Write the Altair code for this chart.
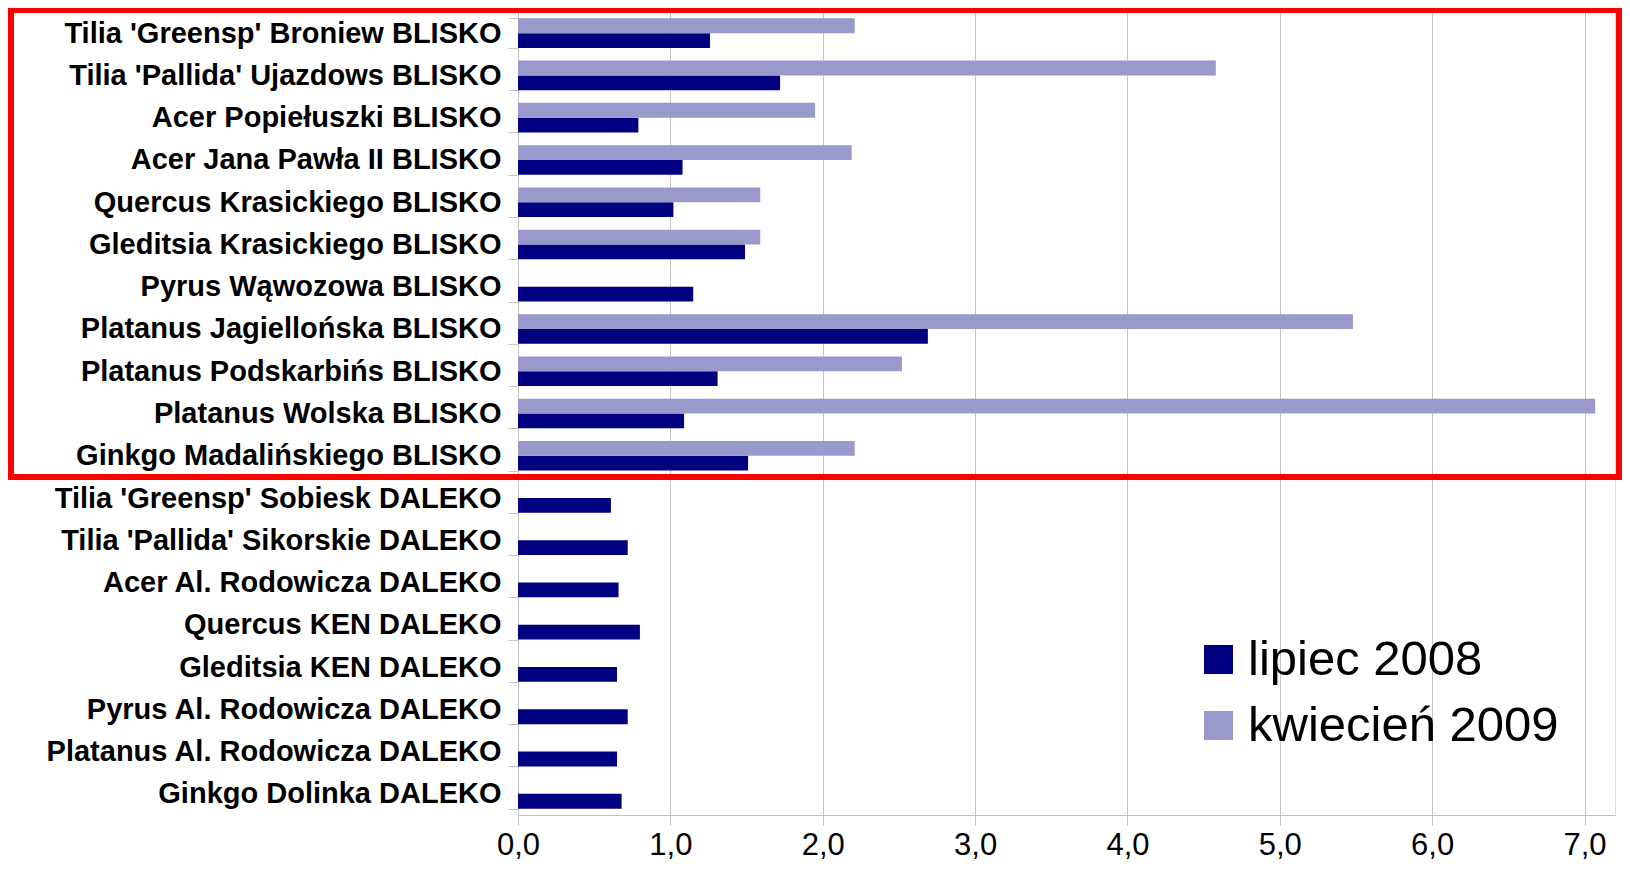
import altair as alt
import pandas as pd

categories = [
    "Tilia 'Greensp' Broniew BLISKO",
    "Tilia 'Pallida' Ujazdows BLISKO",
    "Acer Popiełuszki BLISKO",
    "Acer Jana Pawła II BLISKO",
    "Quercus Krasickiego BLISKO",
    "Gleditsia Krasickiego BLISKO",
    "Pyrus Wąwozowa BLISKO",
    "Platanus Jagiellońska BLISKO",
    "Platanus Podskarbińs BLISKO",
    "Platanus Wolska BLISKO",
    "Ginkgo Madalińskiego BLISKO",
    "Tilia 'Greensp' Sobiesk DALEKO",
    "Tilia 'Pallida' Sikorskie DALEKO",
    "Acer Al. Rodowicza DALEKO",
    "Quercus KEN DALEKO",
    "Gleditsia KEN DALEKO",
    "Pyrus Al. Rodowicza DALEKO",
    "Platanus Al. Rodowicza DALEKO",
    "Ginkgo Dolinka DALEKO",
]

lipiec_2008 = [1.26, 1.72, 0.79, 1.08, 1.02, 1.49, 1.15, 2.69, 1.31, 1.09, 1.51,
               0.61, 0.72, 0.66, 0.80, 0.65, 0.72, 0.65, 0.68]

kwiecien_2009 = [2.21, 4.58, 1.95, 2.19, 1.59, 1.59, None, 5.48, 2.52, 7.07, 2.21,
                 None, None, None, None, None, None, None, None]

series_names = ["lipiec 2008", "kwiecień 2009"]
series_colors = ["#000080", "#9999cc"]
x_ticks = [0, 1, 2, 3, 4, 5, 6, 7]

rows = []
for c, a, b in zip(categories, lipiec_2008, kwiecien_2009):
    rows.append({"cat": c, "series": series_names[0], "value": a})
    if b is not None:
        rows.append({"cat": c, "series": series_names[1], "value": b})
df = pd.DataFrame(rows)

W, H = 1097, 803
FONT = "Liberation Sans"
GRAY = "#c4c4c4"
RED = "#ff0000"

bars = alt.Chart(df).mark_bar().encode(
    x=alt.X(
        "value:Q",
        scale=alt.Scale(domain=[0, 7.2], nice=False, zero=True),
        axis=alt.Axis(
            title=None,
            values=x_ticks,
            labelExpr="replace(format(datum.value, '.1f'), '.', ',')",
            labelFont=FONT,
            labelFontSize=31,
            labelColor="#000000",
            labelPadding=5,
            tickSize=10,
            tickColor=GRAY,
            domainColor=GRAY,
            gridColor=GRAY,
            grid=True,
            labelFlush=False,
        ),
    ),
    y=alt.Y(
        "cat:N",
        sort=categories,
        scale=alt.Scale(paddingInner=0.3, paddingOuter=0.15),
        axis=alt.Axis(
            title=None,
            labelFont=FONT,
            labelFontSize=29,
            labelFontWeight="bold",
            labelColor="#000000",
            labelLimit=800,
            labelPadding=7,
            tickSize=10,
            tickColor=GRAY,
            domainColor=GRAY,
            tickBand="extent",
            grid=False,
        ),
    ),
    yOffset=alt.YOffset(
        "series:N",
        sort=[series_names[1], series_names[0]],
        scale=alt.Scale(paddingInner=0, paddingOuter=0),
    ),
    color=alt.Color(
        "series:N",
        scale=alt.Scale(domain=series_names, range=series_colors),
        legend=alt.Legend(
            title=None,
            orient="none",
            legendX=676,
            legendY=623,
            symbolType="square",
            symbolSize=841,
            symbolStrokeWidth=0,
            symbolOpacity=1,
            labelFont=FONT,
            labelFontSize=49,
            labelColor="#000000",
            labelOffset=5,
            rowPadding=16,
            padding=0,
            labelLimit=600,
        ),
    ),
)

# red annotation frame around the BLISKO group (four filled strips, no stroke)
n_blisko = sum(1 for c in categories if c.endswith("BLISKO"))
y_bottom = H * n_blisko / len(categories)
LEFT, TOP, T = -510, -5, 6
one = pd.DataFrame({"a": [0]})


def strip(x, x2, y, y2):
    return alt.Chart(one).mark_rect(color=RED, cornerRadius=1).encode(
        x=alt.value(x), x2=alt.value(x2), y=alt.value(y), y2=alt.value(y2)
    )


frame = [
    strip(LEFT, W + 1 + T, TOP, TOP + T),                       # top
    strip(LEFT, W + 1 + T, y_bottom - T / 2, y_bottom + T / 2),  # bottom
    strip(LEFT, LEFT + T, TOP, y_bottom + T / 2),               # left
    strip(W + 1, W + 1 + T, TOP, y_bottom + T / 2),             # right
]

chart = alt.layer(bars, *frame).properties(
    width=W, height=H,
    padding={"left": 0, "right": 0, "top": -10, "bottom": 0},
).configure_view(stroke=GRAY, strokeWidth=1).configure(background="white")

chart.save("out.html", embed_options={"renderer": "svg", "actions": False})
